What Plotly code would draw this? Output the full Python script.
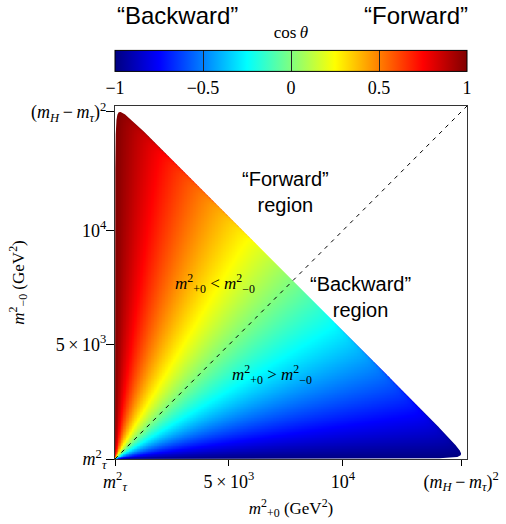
import numpy as np
import plotly.graph_objects as go

# ---- physical constants (GeV) ----
M_H = 125.0
M_TAU = 1.777

# ---- axis / grid settings ----
AXIS_MAX = 15440.0
N_GRID = 480
N_EDGE = 700

MT2 = M_TAU ** 2
TOP = (M_H - M_TAU) ** 2

axis_tickvals = [MT2, 5000.0, 10000.0, TOP]
axis_ticktext = [
    "<i>m</i><sup>2</sup><sub><i>τ</i></sub>",
    "5\u2009×\u200910<sup>3</sup>",
    "10<sup>4</sup>",
    "(<i>m</i><sub><i>H</i></sub>\u2009−\u2009<i>m</i><sub><i>τ</i></sub>)<sup>2</sup>",
]

cbar_tickvals = [-1, -0.5, 0, 0.5, 1]
cbar_ticktext = ["−1", "−0.5", "0", "0.5", "1"]

# MATLAB-style jet
jet = [
    [0.0, "rgb(0,0,128)"],
    [0.125, "rgb(0,0,255)"],
    [0.375, "rgb(0,255,255)"],
    [0.625, "rgb(255,255,0)"],
    [0.875, "rgb(255,0,0)"],
    [1.0, "rgb(128,0,0)"],
]

# ---- Dalitz-plot field: cos(theta) in the tau+ tau- rest frame ----
xs = np.linspace(MT2, AXIS_MAX, N_GRID)
ys = np.linspace(MT2, AXIS_MAX, N_GRID)
X, Y = np.meshgrid(xs, ys)
u = X - MT2
v = Y - MT2
s = M_H ** 2 - u - v
with np.errstate(divide="ignore", invalid="ignore"):
    beta = np.sqrt(np.clip(1.0 - 4.0 * MT2 / np.where(s > 0, s, np.inf), 1e-3, 1.0))
    cos = (v - u) / (beta * (u + v))
cos = np.nan_to_num(cos, nan=0.0, posinf=1.0, neginf=-1.0)
cos = np.clip(cos, -1.0, 1.0)
z = np.round(cos, 4).tolist()

# ---- Dalitz boundary (edge of the kinematically allowed region) ----
tt = np.linspace(0.0, 1.0, N_EDGE)
s_edge = 4.0 * MT2 + (M_H ** 2 - 4.0 * MT2) * tt ** 3
b_edge = np.sqrt(np.clip(1.0 - 4.0 * MT2 / s_edge, 0.0, 1.0))
w_edge = M_H ** 2 - s_edge
up_x = MT2 + w_edge * (1 - b_edge) / 2   # upper-left branch
up_y = MT2 + w_edge * (1 + b_edge) / 2
lo_x = up_y                                # lower-right branch (mirror)
lo_y = up_x
# outside-of-region mask polygon: plot rectangle then region boundary reversed
mask_x = ([MT2, MT2, AXIS_MAX, AXIS_MAX, MT2]
          + list(lo_x[::-1]) + list(up_x))
mask_y = ([MT2, AXIS_MAX, AXIS_MAX, MT2, MT2]
          + list(lo_y[::-1]) + list(up_y))

SERIF = "Liberation Serif"
SANS = "Liberation Sans"

fig = go.Figure()
fig.add_trace(go.Heatmap(
    x=xs, y=ys, z=z, colorscale=jet, zmin=-1, zmax=1,
    hoverinfo="skip",
    colorbar=dict(
        orientation="h", x=0.5, xanchor="center", y=0.96, yanchor="bottom",
        len=1, lenmode="fraction", thickness=21, thicknessmode="pixels",
        xpad=0, ypad=0, outlinewidth=1, outlinecolor="black",
        ticks="inside", ticklen=21, tickcolor="#222222", tickwidth=1,
        tickvals=cbar_tickvals, ticktext=cbar_ticktext,
        tickfont=dict(family=SERIF, size=18, color="black"),
        title=dict(text="cos\u2009<i>θ</i>", side="top",
                   font=dict(family=SERIF, size=17, color="black")),
    ),
))

fig.add_trace(go.Scatter(
    x=mask_x, y=mask_y, mode="lines", fill="toself", fillcolor="white",
    line=dict(width=0, color="white"), hoverinfo="skip", showlegend=False,
))

# diagonal m+0^2 = m-0^2
fig.add_trace(go.Scatter(
    x=[MT2, AXIS_MAX], y=[MT2, AXIS_MAX], mode="lines",
    line=dict(color="black", width=1, dash="4px,5px"),
    hoverinfo="skip", showlegend=False,
))

axis_common = dict(
    range=[MT2, AXIS_MAX], tickvals=axis_tickvals, ticktext=axis_ticktext,
    ticks="outside", tickcolor="black", tickwidth=1,
    showline=True, linecolor="#333333", linewidth=1, mirror=True,
    showgrid=False, zeroline=False,
    tickfont=dict(family=SERIF, size=18, color="black"),
)
fig.update_xaxes(**axis_common, ticklen=6,
                 title=dict(text="<i>m</i><sup>2</sup><sub>+0</sub> (GeV<sup>2</sup>)",
                            font=dict(family=SERIF, size=17, color="black"), standoff=8))
fig.update_yaxes(**axis_common, ticklen=8, ticklabelstandoff=-4,
                 title=dict(text="<i>m</i><sup>2</sup><sub>−0</sub> (GeV<sup>2</sup>)",
                            font=dict(family=SERIF, size=17, color="black"), standoff=2))

annotations = [
    dict(text="\u201cBackward\u201d", xref="paper", yref="paper", x=0.0, y=1.256,
         xanchor="left", yanchor="middle", showarrow=False,
         font=dict(family=SANS, size=24, color="black")),
    dict(text="\u201cForward\u201d", xref="paper", yref="paper", x=1.0085, y=1.256,
         xanchor="right", yanchor="middle", showarrow=False,
         font=dict(family=SANS, size=24, color="black")),
    dict(text="\u201cForward\u201d<br>region", xref="x", yref="y", x=7460, y=11700,
         showarrow=False, font=dict(family=SANS, size=20, color="black")),
    dict(text="\u201cBackward\u201d<br>region", xref="x", yref="y", x=10790, y=7100,
         showarrow=False, font=dict(family=SANS, size=20, color="black")),
    dict(text="<i>m</i><sup>2</sup><sub>+0</sub> &lt; <i>m</i><sup>2</sup><sub>−0</sub>",
         xref="x", yref="y", x=4390, y=7670, showarrow=False,
         font=dict(family=SERIF, size=17, color="black")),
    dict(text="<i>m</i><sup>2</sup><sub>+0</sub> &gt; <i>m</i><sup>2</sup><sub>−0</sub>",
         xref="x", yref="y", x=6890, y=3720, showarrow=False,
         font=dict(family=SERIF, size=17, color="black")),
]

fig.update_layout(
    width=506, height=524,
    margin=dict(l=115, r=39, t=106, b=65, autoexpand=False),
    paper_bgcolor="white", plot_bgcolor="white",
    showlegend=False, annotations=annotations,
)

fig.write_html("out.html", config={"displayModeBar": False},
               post_script="document.body.style.margin='0px';")
